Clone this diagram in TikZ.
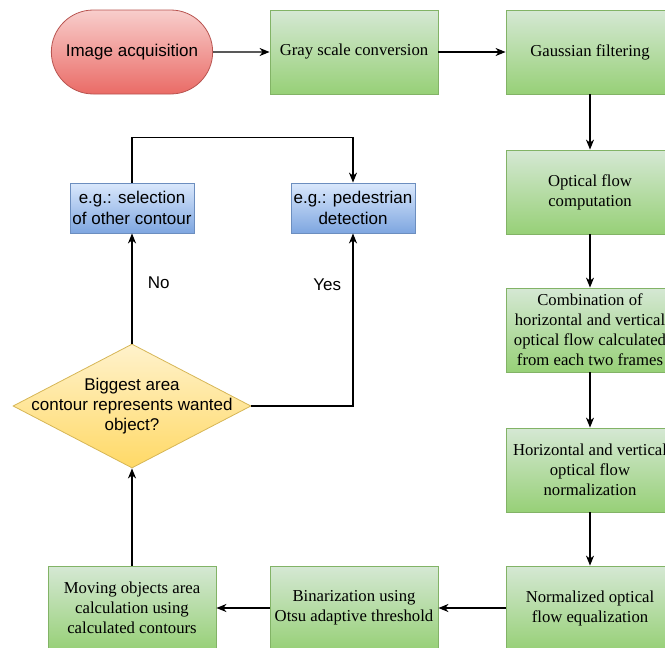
\documentclass[tikz,border=0pt]{standalone}
\usepackage{fontspec}
\setmainfont{Liberation Serif}
\setsansfont{Liberation Sans}
\usepackage{xcolor}
\usetikzlibrary{shapes.geometric,shapes.misc,arrows.meta}
\definecolor{processTopColor}{RGB}{213, 232, 212}
\definecolor{processBottomColor}{RGB}{151, 208, 119}
\definecolor{processBorderColor}{RGB}{130, 179, 102}
\definecolor{startTopColor}{RGB}{248, 206, 204}
\definecolor{startBottomColor}{RGB}{234, 107, 102}
\definecolor{startBorderColor}{RGB}{184, 84, 80}
\definecolor{exampleTopColor}{RGB}{218, 232, 252}
\definecolor{exampleBottomColor}{RGB}{126, 166, 224}
\definecolor{exampleBorderColor}{RGB}{108, 142, 191}
\definecolor{decisionTopColor}{RGB}{255, 242, 204}
\definecolor{decisionBottomColor}{RGB}{255, 217, 102}
\definecolor{decisionBorderColor}{RGB}{214, 182, 86}
\definecolor{arrowColor}{RGB}{0, 0, 0}

\begin{document}
\begin{tikzpicture}[
		x=1pt, y=-1pt,
		% Define styles for nodes
		process/.style={
				draw=processBorderColor,
				rectangle,
				minimum width=168pt,
				minimum height=84pt,
				line width=0.8pt,
				top color=processTopColor,
				bottom color=processBottomColor,
				align=center,
				font=\fontsize{16.7}{20}\selectfont
			},
		terminal/.style={
				draw=startBorderColor,
				rounded rectangle,
				minimum width=168pt,
				minimum height=84pt,
				line width=0.8pt,
				top color=startTopColor,
				bottom color=startBottomColor,
				font=\sffamily\fontsize{17}{20}\selectfont
			},
		example/.style={
				draw=exampleBorderColor,
				rectangle,
				minimum width=124pt,
				minimum height=50pt,
				line width=0.8pt,
				top color=exampleTopColor,
				bottom color=exampleBottomColor,
				align=center,
				inner sep=0pt,
				font=\sffamily\fontsize{17}{21}\selectfont
			},
		decision/.style={
				draw=decisionBorderColor,
				diamond,
				minimum width=238pt,
				minimum height=124pt,
				inner sep=0pt,
				line width=0.8pt,
				top color=decisionTopColor,
				bottom color=decisionBottomColor
			},
		arrow/.style={
				->,
				line width=1.2pt,
				>={Stealth[length=10pt, width=8pt, inset=3pt]},
				draw=arrowColor
			},
		branchlabel/.style={
				font=\sffamily\fontsize{17}{20}\selectfont
			}
	]
	\useasboundingbox (0,0) rectangle (665,648);

	% Top row
	\node[terminal] (acquisition) at (132,52) {Image acquisition};
	\node[process] (grayscale) at (354,52) {Gray scale conversion};
	\node[process] (gaussian) at (590,52) {Gaussian filtering};

	% Right column
	\node[process] (opticalflow) at (590,192) {Optical flow\\computation};
	\node[process] (combination) at (590,330) {Combination of\\horizontal and vertical\\optical flow calculated\\from each two frames};
	\node[process] (normalization) at (590,470) {Horizontal and vertical\\optical flow\\normalization};

	% Bottom row
	\node[process] (equalization) at (590,608) {Normalized optical\\flow equalization};
	\node[process] (binarization) at (354,608) {Binarization using\\Otsu adaptive threshold};
	\node[process] (contours) at (132,608) {Moving objects area\\calculation using\\calculated contours};

	% Decision and its outcomes
	\node[decision, label={[align=center, font=\sffamily\fontsize{17}{20}\selectfont]center:Biggest area\\contour represents wanted\\object?}] (check) at (132,406) {};
	\node[example] (othercontour) at (132,208) {e.g.: selection\\of other contour};
	\node[example] (pedestrian) at (353,208) {e.g.: pedestrian\\detection};

	% ARROWS
	\draw[arrow] (acquisition) -- (grayscale);
	\draw[arrow] (grayscale) -- (gaussian);
	\draw[arrow] (gaussian) -- (opticalflow);
	\draw[arrow] (opticalflow) -- (combination);
	\draw[arrow] (combination) -- (normalization);
	\draw[arrow] (normalization) -- (equalization);
	\draw[arrow] (equalization) -- (binarization);
	\draw[arrow] (binarization) -- (contours);
	\draw[arrow] (contours) -- (check);

	% Decision branches
	\draw[arrow] (check) -- node[branchlabel, right=12pt, pos=0.55] {No} (othercontour);
	\draw[arrow] (check.east) -| node[branchlabel, left=8pt, pos=0.85] {Yes} (pedestrian);
	\draw[arrow] (othercontour.north) -- ++(0,-45) -| (pedestrian.north);

\end{tikzpicture}
\end{document}
